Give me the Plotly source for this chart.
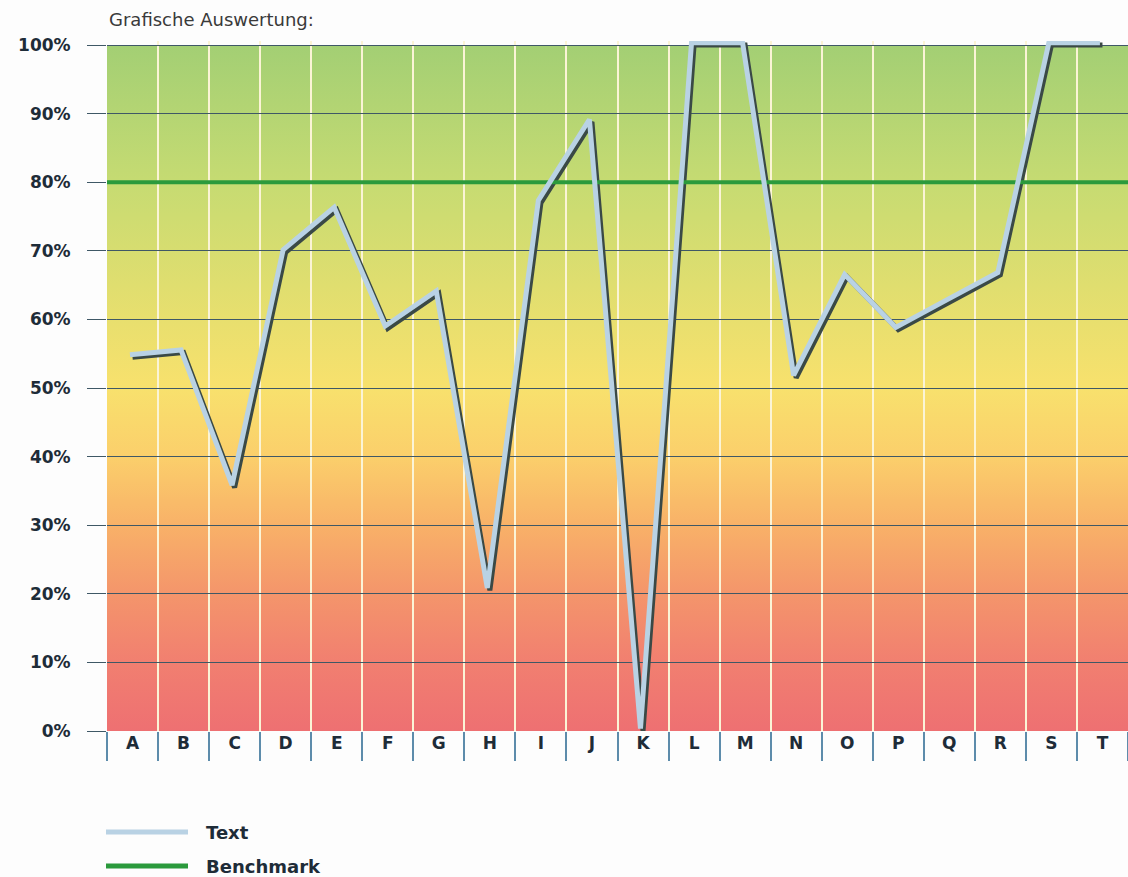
import base64
import plotly.graph_objects as go

# ---- data ----
categories = list("ABCDEFGHIJKLMNOPQRST")
values = [54.5, 55.2, 35.5, 69.8, 76.0, 58.7, 63.8, 20.5, 77.0, 88.8,
          0.0, 100.0, 100.0, 51.5, 66.2, 58.5, 62.5, 66.5, 100.0, 100.0]
benchmark = 80
y_ticks = [0, 10, 20, 30, 40, 50, 60, 70, 80, 90, 100]
y_ticktext = [f"{v}%" for v in y_ticks]
title_text = "Grafische Auswertung:"
series_name = "Text"
benchmark_name = "Benchmark"

# ---- styles ----
LINE_COLOR = "#b9d2e4"
SHADOW_COLOR = "#3a4946"
BENCH_COLOR = "#2b9a3c"
TEXT_COLOR = "#1e2c38"
GRID_COLOR = "#3f5866"

W, H = 1128, 877
ML, MR, MT, MB = 107, 0, 41, 146
Y_TOP = 100.6  # a little headroom so the line at 100% is not clipped

# vertical gradient background as SVG image
stops = [
    (0.00, "#a3cf74"), (0.20, "#c6db72"), (0.40, "#e8df6e"), (0.50, "#f8e16d"),
    (0.60, "#fbcf6b"), (0.70, "#f8b168"), (0.80, "#f4956b"), (0.90, "#f17f70"),
    (1.00, "#ee7072"),
]
stop_xml = "".join(f'<stop offset="{o}" stop-color="{c}"/>' for o, c in stops)
svg = ('<svg xmlns="http://www.w3.org/2000/svg" width="100" height="100" viewBox="0 0 100 100" preserveAspectRatio="none">'
       f'<defs><linearGradient id="g" x1="0" y1="0" x2="0" y2="1">{stop_xml}</linearGradient></defs>'
       '<rect width="100" height="100" fill="url(#g)"/></svg>')
svg_uri = "data:image/svg+xml;base64," + base64.b64encode(svg.encode()).decode()

n = len(categories)
dx, dy = 0.05, 0.35

fig = go.Figure()

# shadow of the line (main axes)
fig.add_trace(go.Scatter(
    x=categories, y=values, mode="lines",
    line=dict(color=SHADOW_COLOR, width=5), hoverinfo="skip", showlegend=False,
))
# benchmark series, on an overlay axis stretched so it spans the full width
fig.add_trace(go.Scatter(
    x=categories, y=[benchmark] * n, mode="lines", name=benchmark_name,
    xaxis="x2", yaxis="y", line=dict(color=BENCH_COLOR, width=4),
    hoverinfo="skip", showlegend=False,
))
# main light line (slightly shifted up/left, so the shadow appears right/below)
fig.add_trace(go.Scatter(
    x=categories, y=values, mode="lines", name=series_name,
    xaxis="x3", yaxis="y3", line=dict(color=LINE_COLOR, width=5), showlegend=False,
))
# empty trace for the category label axis
fig.add_trace(go.Scatter(
    x=categories, y=[None] * n, mode="lines", xaxis="x4", yaxis="y",
    hoverinfo="skip", showlegend=False,
))

label_font = dict(size=17, family="DejaVu Sans", weight="bold", color=TEXT_COLOR)

fig.update_layout(
    width=W, height=H,
    margin=dict(l=ML, r=MR, t=MT, b=MB),
    paper_bgcolor="#fdfdfd",
    plot_bgcolor="rgba(0,0,0,0)",
    showlegend=False,
    font=dict(family="DejaVu Sans", color=TEXT_COLOR),
    images=[dict(source=svg_uri, xref="paper", yref="y", x=0, y=y_ticks[-1],
                 sizex=1, sizey=y_ticks[-1] - y_ticks[0], xanchor="left", yanchor="top",
                 sizing="stretch", layer="below")],
    xaxis=dict(
        type="category", categoryorder="array", categoryarray=categories,
        range=[-0.5, n - 0.5], tickson="boundaries",
        showgrid=True, gridcolor="#fbf4d6", gridwidth=2,
        ticks="outside", ticklen=29, tickcolor="#5d8cab", tickwidth=1.5,
        showticklabels=False,
        showline=False, zeroline=False, fixedrange=True,
    ),
    yaxis=dict(
        range=[0, Y_TOP], tickvals=y_ticks, ticktext=y_ticktext,
        showgrid=True, gridcolor=GRID_COLOR, gridwidth=1,
        ticks="outside", ticklen=19, tickcolor=GRID_COLOR, tickwidth=1,
        ticklabelstandoff=13,
        tickfont=label_font,
        zeroline=False, showline=False, fixedrange=True,
    ),
    xaxis2=dict(type="category", categoryorder="array", categoryarray=categories,
                overlaying="x", anchor="y", range=[0, n - 1], visible=False),
    xaxis3=dict(type="category", categoryorder="array", categoryarray=categories,
                overlaying="x", anchor="y3", range=[-0.5 + dx, n - 0.5 + dx], visible=False),
    yaxis3=dict(overlaying="y", anchor="x3", range=[0 - dy, Y_TOP - dy], visible=False),
    xaxis4=dict(type="category", categoryorder="array", categoryarray=categories,
                overlaying="x", anchor="y", range=[-0.5, n - 0.5],
                showgrid=False, zeroline=False, ticks="", showline=False,
                tickfont=label_font, fixedrange=True),
)

plot_w = W - ML - MR
plot_h = H - MT - MB
def px_x(px):
    return (px - ML) / plot_w
def px_y(py):
    return (H - MB - py) / plot_h

# title
fig.add_annotation(text=title_text, xref="paper", yref="paper", x=0, y=px_y(19),
                   xanchor="left", yanchor="middle", showarrow=False,
                   font=dict(size=18, family="DejaVu Sans", color="#3a3a3a"))

# manual legend
for name, color, py in [(series_name, LINE_COLOR, 832), (benchmark_name, BENCH_COLOR, 866)]:
    fig.add_shape(type="line", xref="paper", yref="paper",
                  x0=px_x(106), x1=px_x(188), y0=px_y(py), y1=px_y(py),
                  line=dict(color=color, width=5))
    fig.add_annotation(text=f"<b>{name}</b>", xref="paper", yref="paper",
                       x=px_x(204), y=px_y(py), xanchor="left", yanchor="middle",
                       showarrow=False,
                       font=dict(size=18, family="DejaVu Sans", color=TEXT_COLOR))

fig.write_html("out.html", config={"displayModeBar": False},
               post_script="document.body.style.margin='0px';")
